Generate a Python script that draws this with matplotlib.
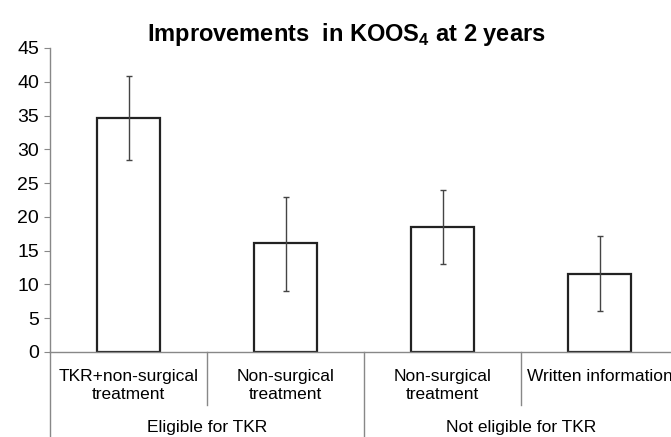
import matplotlib.pyplot as plt
from matplotlib.transforms import blended_transform_factory

categories = ["TKR+non-surgical\ntreatment", "Non-surgical\ntreatment",
              "Non-surgical\ntreatment", "Written information"]
groups = ["Eligible for TKR", "Not eligible for TKR"]
means = [34.6, 16.1, 18.5, 11.6]
ci_low = [28.4, 9.1, 13.0, 6.0]
ci_high = [40.8, 23.0, 24.0, 17.2]
yticks = [0, 5, 10, 15, 20, 25, 30, 35, 40, 45]

plt.rcParams['font.family'] = ['Liberation Sans', 'DejaVu Sans']
plt.rcParams['mathtext.fontset'] = 'custom'
plt.rcParams['mathtext.rm'] = 'Liberation Sans:bold'

fig = plt.figure(figsize=(6.71, 4.37), dpi=100)
ax = fig.add_axes([50 / 671, 1 - 352 / 437, 621 / 671, 304 / 437])

x = list(range(len(means)))
yerr = [[m - lo for m, lo in zip(means, ci_low)],
        [hi - m for m, hi in zip(means, ci_high)]]
ax.bar(x, means, width=0.4, color='white', edgecolor='#222222', linewidth=1.6, zorder=2)
ax.errorbar(x, means, yerr=yerr, fmt='none', ecolor='#444444', elinewidth=1.0,
            capsize=2.5, capthick=1.0, zorder=3)

ax.set_xlim(-0.5, -0.5 + 621 / 157)
ax.set_ylim(0, 45)
ax.set_yticks(yticks)
ax.tick_params(axis='y', labelsize=14, length=4, color='#888888', pad=4)
ax.set_xticks([])
for s in ['top', 'right']:
    ax.spines[s].set_visible(False)
for s in ['left', 'bottom']:
    ax.spines[s].set_color('#888888')
    ax.spines[s].set_linewidth(1.0)

# title sits a bit left of the axes centre in the original
fig.text(346 / 671, 1 - 41 / 437, r'Improvements  in KOOS$_4$ at 2 years',
         fontsize=17, fontweight='bold', ha='center', va='baseline')

# category / group labels under the axis
tr = blended_transform_factory(ax.transData, ax.transAxes)
for i, lab in enumerate(categories):
    ax.text(i, -0.055, lab, transform=tr, ha='center', va='top', fontsize=12.5,
            linespacing=1.3)
for g, lab in enumerate(groups):
    ax.text(2 * g + 0.5, -0.225, lab, transform=tr, ha='center', va='top', fontsize=12.5)

for xd in [0.5, 2.5]:
    ax.plot([xd, xd], [0, -0.175], transform=tr, color='#888888', lw=1.0, clip_on=False)
for xd in [-0.5, 1.5]:
    ax.plot([xd, xd], [0, -0.3], transform=tr, color='#888888', lw=1.0, clip_on=False)

fig.savefig('out.png', dpi=100)
